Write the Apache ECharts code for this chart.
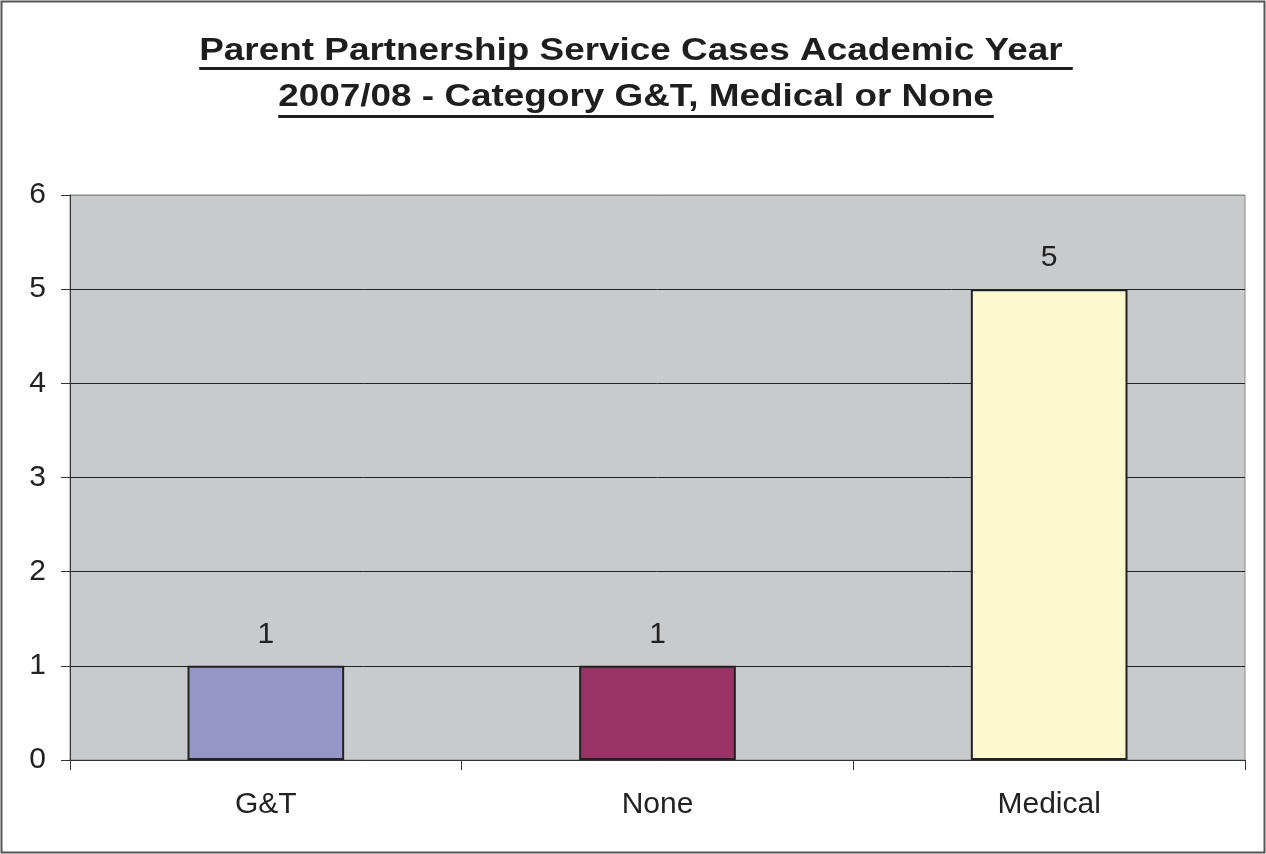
<!DOCTYPE html>
<html>
<head>
<meta charset="utf-8">
<script src="https://cdn.jsdelivr.net/npm/echarts@6/dist/echarts.min.js"></script>
<style>html,body{margin:0;padding:0;background:#fff}#c{width:1266px;height:854px}</style>
</head>
<body>
<div id="c"></div>
<script>
var categories = ['G&T', 'None', 'Medical'];
var values = [1, 1, 5];
var barColors = ['#9696C8', '#993366', '#FCF9CE'];
var titleLines = ['Parent Partnership Service Cases Academic Year ', '2007/08 - Category G&T, Medical or None'];
var yTicks = [0, 1, 2, 3, 4, 5, 6];

var chart = echarts.init(document.getElementById('c'));
var FAM = '"Liberation Sans", Arial, sans-serif';
var titleSize = 31;
var titleStretch = 1.19;
var ctx = document.createElement('canvas').getContext('2d');
ctx.font = 'bold ' + titleSize + 'px ' + FAM;
var cx = 636;
var lineY = [51, 97];
var ulY = [67, 115];
var graphics = [{
  type: 'rect', shape: {x: 1.5, y: 1.5, width: 1263, height: 851},
  style: {fill: 'none', stroke: '#555', lineWidth: 2}, z: 100
}];
titleLines.forEach(function (t, i) {
  var w = ctx.measureText(t).width * titleStretch;
  graphics.push({
    type: 'text', x: cx, y: lineY[i], scaleX: titleStretch,
    style: {text: t, fontSize: titleSize, fontWeight: 'bold', fontFamily: FAM, fill: '#1e1e1e', align: 'center', verticalAlign: 'middle'}
  });
  graphics.push({
    type: 'rect', shape: {x: cx - w / 2, y: ulY[i], width: w, height: 3},
    style: {fill: '#1e1e1e'}
  });
});

chart.setOption({
  animation: false,
  grid: {left: 70, right: 21, top: 195, bottom: 94, show: true, backgroundColor: '#C9CACC', borderColor: '#8a8a8a', borderWidth: 1},
  graphic: graphics,
  xAxis: {
    type: 'category', data: categories,
    axisLine: {lineStyle: {color: '#333', width: 1}},
    axisTick: {show: true, length: 10, alignWithLabel: false, lineStyle: {color: '#333'}},
    axisLabel: {color: '#222', fontSize: 30, fontFamily: FAM, margin: 30}
  },
  yAxis: {
    type: 'value', min: yTicks[0], max: yTicks[yTicks.length - 1], interval: 1,
    axisLine: {show: true, lineStyle: {color: '#333', width: 1}},
    axisTick: {show: true, length: 9, lineStyle: {color: '#333'}},
    axisLabel: {color: '#222', fontSize: 30, fontFamily: FAM, margin: 24},
    splitLine: {show: true, lineStyle: {color: ['#333', '#222', '#222', '#222', '#222', '#222', '#8a8a8a'], width: 1}}
  },
  series: [{
    type: 'bar',
    barCategoryGap: '60%',
    data: values.map(function (v, i) {
      return {value: v, itemStyle: {color: barColors[i]}};
    }),
    itemStyle: {borderColor: '#222', borderWidth: 2},
    label: {show: true, position: 'top', distance: 16, color: '#222', fontSize: 30, fontFamily: FAM}
  }]
});
</script>
</body>
</html>
